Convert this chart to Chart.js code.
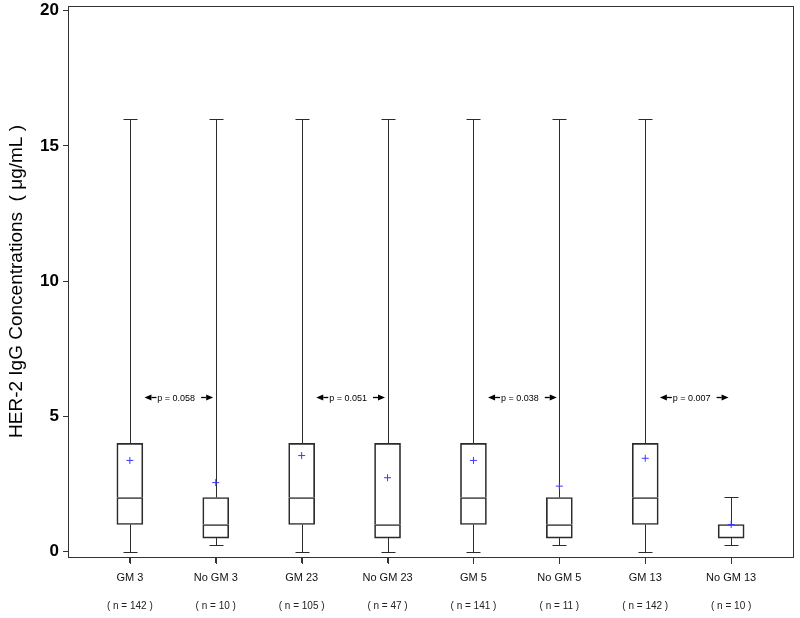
<!DOCTYPE html>
<html>
<head>
<meta charset="utf-8">
<script src="https://cdn.jsdelivr.net/npm/chart.js@4"></script>
<style>
  html, body { margin: 0; padding: 0; background: #fff; }
  #wrap { width: 800px; height: 618px; }
</style>
</head>
<body>
<div id="wrap"><canvas id="boxChart" width="800" height="618"></canvas></div>
<script>
// groups and sample sizes
const groups = ['GM 3', 'No GM 3', 'GM 23', 'No GM 23', 'GM 5', 'No GM 5', 'GM 13', 'No GM 13'];
const counts = ['( n = 142 )', '( n = 10 )', '( n = 105 )', '( n = 47 )', '( n = 141 )', '( n = 11 )', '( n = 142 )', '( n = 10 )'];

// box plot statistics (ug/mL)
const mins    = [0, 0.25, 0, 0, 0, 0.25, 0, 0.25];
const q1s     = [1, 0.5, 1, 0.5, 1, 0.5, 1, 0.5];
const medians = [2, 1, 2, 1, 2, 1, 2, 1];
const q3s     = [4, 2, 4, 4, 4, 2, 4, 1];
const maxs    = [16, 16, 16, 16, 16, 16, 16, 2];
const means   = [3.37, 2.55, 3.55, 2.73, 3.37, 2.42, 3.45, 1.0];

// p-values between each pair, and the level they sit at
const pLabels = ['p = 0.058', 'p = 0.051', 'p = 0.038', 'p = 0.007'];
const pLevel = 5.72;

const yTicks = [0, 5, 10, 15, 20];

const lineColor = '#2b2b2b';

const boxExtras = {
    id: 'boxExtras',
    beforeDatasetsDraw(chart) {
        const { ctx, scales: { x, y } } = chart;
        ctx.save();
        ctx.strokeStyle = lineColor;
        ctx.lineWidth = 1;
        groups.forEach((g, i) => {
            const cx = Math.round(x.getPixelForValue(i)) + 0.5;
            const cap = 7;
            const seg = (x1, y1, x2, y2) => {
                ctx.beginPath();
                ctx.moveTo(x1, y1);
                ctx.lineTo(x2, y2);
                ctx.stroke();
            };
            const yMax = Math.round(y.getPixelForValue(maxs[i])) + 0.5;
            const yMin = Math.round(y.getPixelForValue(mins[i])) + 0.5;
            seg(cx, y.getPixelForValue(q3s[i]), cx, yMax);
            seg(cx, y.getPixelForValue(q1s[i]), cx, yMin);
            seg(cx - cap, yMax, cx + cap, yMax);
            seg(cx - cap, yMin, cx + cap, yMin);
        });
        ctx.restore();
    },
    afterDatasetsDraw(chart) {
        const { ctx, chartArea: a, scales: { x, y } } = chart;
        ctx.save();
        // p-value annotations with arrows
        ctx.fillStyle = '#000';
        ctx.strokeStyle = '#000';
        ctx.font = '9px "Liberation Sans", Arial, sans-serif';
        ctx.textAlign = 'center';
        ctx.textBaseline = 'middle';
        pLabels.forEach((txt, k) => {
            const base = k * 2;
            const py = Math.round(y.getPixelForValue(pLevel)) + 0.5;
            const lTip = x.getPixelForValue(base + 0.17);
            const rTip = x.getPixelForValue(base + 0.97);
            const tx = x.getPixelForValue(base + 0.54);
            ctx.fillText(txt, tx, py + 1.5);
            const arrow = (tip, dir) => {
                const len = 12, head = 7;
                ctx.beginPath();
                ctx.moveTo(tip + dir * len, py);
                ctx.lineTo(tip + dir * head, py);
                ctx.lineWidth = 1.3;
                ctx.stroke();
                ctx.beginPath();
                ctx.moveTo(tip, py);
                ctx.lineTo(tip + dir * head, py - 3);
                ctx.lineTo(tip + dir * head, py + 3);
                ctx.closePath();
                ctx.fill();
            };
            arrow(lTip, 1);
            arrow(rTip, -1);
        });
        // frame around the plot
        ctx.strokeStyle = '#333';
        ctx.lineWidth = 1;
        ctx.strokeRect(Math.round(a.left) + 0.5, Math.round(a.top) + 0.5,
            Math.round(a.right - a.left), Math.round(a.bottom - a.top));
        // small tick marks under each group
        groups.forEach((g, i) => {
            const tx = Math.round(x.getPixelForValue(i)) + 0.5;
            ctx.beginPath();
            ctx.moveTo(tx, Math.round(a.bottom));
            ctx.lineTo(tx, Math.round(a.bottom) + 7);
            ctx.stroke();
        });
        ctx.restore();
    }
};

const boxStyle = {
    type: 'bar',
    backgroundColor: 'rgba(255,255,255,0)',
    borderColor: lineColor,
    borderSkipped: false,
    barThickness: 26,
    grouped: false,
    order: 2
};

const xRange = { min: -0.72, max: 7.72, offset: false };

new Chart(document.getElementById('boxChart').getContext('2d'), {
    type: 'bar',
    data: {
        datasets: [
            Object.assign({
                label: 'lower box',
                data: groups.map((g, i) => ({ x: i, y: [q1s[i], medians[i]] })),
                borderWidth: 1
            }, boxStyle),
            Object.assign({
                label: 'upper box',
                data: groups.map((g, i) => ({ x: i, y: [medians[i], q3s[i]] })),
                borderWidth: { top: 1, left: 1, right: 1, bottom: 0 }
            }, boxStyle),
            {
                type: 'scatter',
                label: 'mean',
                data: groups.map((g, i) => ({ x: i, y: means[i] })),
                pointStyle: 'cross',
                pointRadius: 3.5,
                borderColor: '#3a3aff',
                borderWidth: 1,
                order: 0
            }
        ]
    },
    options: {
        responsive: false,
        animation: false,
        layout: { padding: { top: 6, right: 7, left: 0, bottom: 0 } },
        plugins: {
            legend: { display: false },
            tooltip: { enabled: false }
        },
        scales: {
            x: Object.assign({
                type: 'linear',
                position: 'bottom',
                weight: 0,
                afterBuildTicks: (axis) => { axis.ticks = groups.map((g, i) => ({ value: i })); },
                afterFit: (axis) => { axis.height = 30; },
                ticks: {
                    autoSkip: false,
                    maxRotation: 0,
                    padding: 8,
                    color: '#111',
                    font: { family: '"Liberation Sans", Arial, sans-serif', size: 11 },
                    callback: (v) => groups[v]
                },
                grid: { offset: false, drawOnChartArea: false, drawTicks: true, tickLength: 6, color: '#333' },
                border: { display: true, color: '#333' }
            }, xRange),
            x2: Object.assign({
                type: 'linear',
                position: 'bottom',
                weight: 1,
                afterBuildTicks: (axis) => { axis.ticks = counts.map((c, i) => ({ value: i })); },
                afterFit: (axis) => { axis.height = 31; },
                ticks: {
                    autoSkip: false,
                    maxRotation: 0,
                    padding: 5,
                    color: '#222',
                    font: { family: '"Liberation Sans", Arial, sans-serif', size: 10 },
                    callback: (v) => counts[v]
                },
                grid: { display: false, offset: false },
                border: { display: false }
            }, xRange),
            y: {
                min: -0.2,
                max: 20.17,
                afterBuildTicks: (axis) => { axis.ticks = yTicks.map(v => ({ value: v })); },
                afterFit: (axis) => {
                    axis.width = 68;
                    axis.paddingTop = 0;
                    axis.paddingBottom = 0;
                },
                ticks: {
                    padding: 4,
                    color: '#000',
                    font: { family: '"Liberation Sans", Arial, sans-serif', size: 17, weight: 'bold' }
                },
                grid: { drawOnChartArea: false, drawTicks: true, tickLength: 5, color: '#333' },
                border: { display: true, color: '#333' },
                title: {
                    display: true,
                    text: 'HER-2 IgG Concentrations  ( μg/mL )',
                    color: '#000',
                    padding: { top: 5, bottom: 0 },
                    font: { family: '"Liberation Sans", Arial, sans-serif', size: 19 }
                }
            }
        }
    },
    plugins: [boxExtras]
});
</script>
</body>
</html>
